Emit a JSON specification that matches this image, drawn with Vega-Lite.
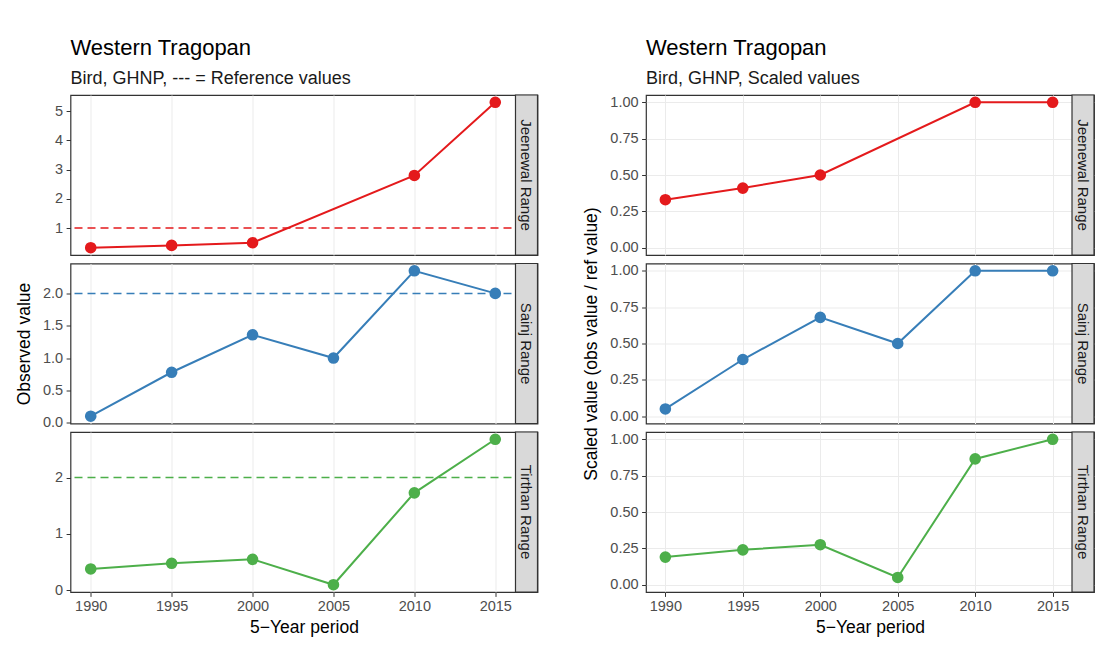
{
  "$schema": "https://vega.github.io/schema/vega-lite/v6.json",
  "background": "white",
  "padding": {"left": 14.5, "top": 36, "right": 6, "bottom": 20},
  "config": {
    "font": "Liberation Sans",
    "view": {"stroke": "#333333", "strokeWidth": 1.2},
    "axis": {
      "domain": false,
      "gridColor": "#ebebeb",
      "gridWidth": 1,
      "tickColor": "#333333",
      "tickSize": 4.4,
      "tickWidth": 1,
      "labelColor": "#4d4d4d",
      "labelFontSize": 14.5,
      "labelPadding": 3.5,
      "labelOverlap": false,
      "labelFlush": false,
      "titleFontSize": 17.5,
      "titleFontWeight": "normal",
      "titleColor": "#000000"
    },
    "axisY": {"titlePadding": 9},
    "axisX": {"titlePadding": 5},
    "title": {"anchor": "start", "frame": "group", "fontSize": 22, "fontWeight": "normal", "color": "#000000", "subtitleFontSize": 18, "subtitleColor": "#1a1a1a", "subtitlePadding": 10, "offset": 5}
  },
  "datasets": {
    "obs": [
      {"range": "Jeenewal Range", "year": 1990, "obs": 0.33, "scaled": 0.33},
      {"range": "Jeenewal Range", "year": 1995, "obs": 0.41, "scaled": 0.41},
      {"range": "Jeenewal Range", "year": 2000, "obs": 0.5, "scaled": 0.5},
      {"range": "Jeenewal Range", "year": 2010, "obs": 2.8, "scaled": 1},
      {"range": "Jeenewal Range", "year": 2015, "obs": 5.3, "scaled": 1},
      {"range": "Sainj Range", "year": 1990, "obs": 0.1, "scaled": 0.05},
      {"range": "Sainj Range", "year": 1995, "obs": 0.78, "scaled": 0.39},
      {"range": "Sainj Range", "year": 2000, "obs": 1.36, "scaled": 0.68},
      {"range": "Sainj Range", "year": 2005, "obs": 1.0, "scaled": 0.5},
      {"range": "Sainj Range", "year": 2010, "obs": 2.35, "scaled": 1},
      {"range": "Sainj Range", "year": 2015, "obs": 2.0, "scaled": 1},
      {"range": "Tirthan Range", "year": 1990, "obs": 0.38, "scaled": 0.19},
      {"range": "Tirthan Range", "year": 1995, "obs": 0.48, "scaled": 0.24},
      {"range": "Tirthan Range", "year": 2000, "obs": 0.55, "scaled": 0.275},
      {"range": "Tirthan Range", "year": 2005, "obs": 0.1, "scaled": 0.05},
      {"range": "Tirthan Range", "year": 2010, "obs": 1.73, "scaled": 0.865},
      {"range": "Tirthan Range", "year": 2015, "obs": 2.68, "scaled": 1}
    ],
    "refs": [
      {"range": "Jeenewal Range", "ref": 1},
      {"range": "Sainj Range", "ref": 2},
      {"range": "Tirthan Range", "ref": 2}
    ]
  },
  "hconcat": [
    {
      "title": {"text": "Western Tragopan", "subtitle": "Bird, GHNP, --- = Reference values"},
      "spacing": 8.5,
      "bounds": "flush",
      "vconcat": [
        {
          "width": 467, "height": 160,
          "resolve": {"axis": {"x": "independent", "y": "independent"}},
          "layer": [
            {"data": {"name": "refs"}, "transform": [{"filter": "datum.range == 'Jeenewal Range'"}], "mark": {"type": "rule", "color": "#E41A1C", "strokeDash": [8, 5], "strokeWidth": 1.5}, "encoding": {"y": {"field": "ref", "type": "quantitative", "axis": null}}},
            {"data": {"name": "obs"}, "transform": [{"filter": "datum.range == 'Jeenewal Range'"}], "mark": {"type": "line", "color": "#E41A1C", "strokeWidth": 2},
              "encoding": {
                "x": {"field": "year", "type": "quantitative", "scale": {"domain": [1988.75, 2017.61], "nice": false, "zero": false}, "axis": {"title": null, "values": [1990, 1995, 2000, 2005, 2010, 2015], "labels": false, "ticks": false}},
                "y": {"field": "obs", "type": "quantitative", "scale": {"domain": [0.0815, 5.5485], "nice": false, "zero": false}, "axis": {"title": null, "values": [1, 2, 3, 4, 5], "format": "d"}}
              }},
            {"data": {"name": "obs"}, "transform": [{"filter": "datum.range == 'Jeenewal Range'"}], "mark": {"type": "circle", "color": "#E41A1C", "size": 135, "opacity": 1},
              "encoding": {
                "x": {"field": "year", "type": "quantitative", "axis": {"orient": "top", "title": null, "values": [1992.5, 1997.5, 2002.5, 2007.5, 2012.5], "labels": false, "ticks": false, "gridWidth": 0.5}},
                "y": {"field": "obs", "type": "quantitative", "axis": {"orient": "right", "title": null, "values": [0.5, 1.5, 2.5, 3.5, 4.5, 5.5], "labels": false, "ticks": false, "gridWidth": 0.5}}
              }},
            {"data": {"name": "refs"}, "transform": [{"filter": "datum.range == 'Jeenewal Range'"}], "mark": {"type": "rect", "fill": "#d9d9d9", "stroke": "#333333", "strokeWidth": 1.2}, "encoding": {"x": {"datum": 2016.25, "axis": null}, "x2": {"datum": 2017.61}}},
            {"data": {"name": "refs"}, "transform": [{"filter": "datum.range == 'Jeenewal Range'"}], "mark": {"type": "text", "angle": 90, "fontSize": 15, "color": "#1a1a1a"}, "encoding": {"x": {"datum": 2016.93, "axis": null}, "text": {"field": "range"}}}
          ]
        },
        {
          "width": 467, "height": 160,
          "resolve": {"axis": {"x": "independent", "y": "independent"}},
          "layer": [
            {"data": {"name": "refs"}, "transform": [{"filter": "datum.range == 'Sainj Range'"}], "mark": {"type": "rule", "color": "#377EB8", "strokeDash": [8, 5], "strokeWidth": 1.5}, "encoding": {"y": {"field": "ref", "type": "quantitative", "axis": null}}},
            {"data": {"name": "obs"}, "transform": [{"filter": "datum.range == 'Sainj Range'"}], "mark": {"type": "line", "color": "#377EB8", "strokeWidth": 2},
              "encoding": {
                "x": {"field": "year", "type": "quantitative", "scale": {"domain": [1988.75, 2017.61], "nice": false, "zero": false}, "axis": {"title": null, "values": [1990, 1995, 2000, 2005, 2010, 2015], "labels": false, "ticks": false}},
                "y": {"field": "obs", "type": "quantitative", "scale": {"domain": [-0.0125, 2.4625], "nice": false, "zero": false}, "axis": {"title": "Observed value", "values": [0, 0.5, 1, 1.5, 2], "format": ".1f"}}
              }},
            {"data": {"name": "obs"}, "transform": [{"filter": "datum.range == 'Sainj Range'"}], "mark": {"type": "circle", "color": "#377EB8", "size": 135, "opacity": 1},
              "encoding": {
                "x": {"field": "year", "type": "quantitative", "axis": {"orient": "top", "title": null, "values": [1992.5, 1997.5, 2002.5, 2007.5, 2012.5], "labels": false, "ticks": false, "gridWidth": 0.5}},
                "y": {"field": "obs", "type": "quantitative", "axis": {"orient": "right", "title": null, "values": [0.25, 0.75, 1.25, 1.75, 2.25], "labels": false, "ticks": false, "gridWidth": 0.5}}
              }},
            {"data": {"name": "refs"}, "transform": [{"filter": "datum.range == 'Sainj Range'"}], "mark": {"type": "rect", "fill": "#d9d9d9", "stroke": "#333333", "strokeWidth": 1.2}, "encoding": {"x": {"datum": 2016.25, "axis": null}, "x2": {"datum": 2017.61}}},
            {"data": {"name": "refs"}, "transform": [{"filter": "datum.range == 'Sainj Range'"}], "mark": {"type": "text", "angle": 90, "fontSize": 15, "color": "#1a1a1a"}, "encoding": {"x": {"datum": 2016.93, "axis": null}, "text": {"field": "range"}}}
          ]
        },
        {
          "width": 467, "height": 160,
          "resolve": {"axis": {"x": "independent", "y": "independent"}},
          "layer": [
            {"data": {"name": "refs"}, "transform": [{"filter": "datum.range == 'Tirthan Range'"}], "mark": {"type": "rule", "color": "#4DAF4A", "strokeDash": [8, 5], "strokeWidth": 1.5}, "encoding": {"y": {"field": "ref", "type": "quantitative", "axis": null}}},
            {"data": {"name": "obs"}, "transform": [{"filter": "datum.range == 'Tirthan Range'"}], "mark": {"type": "line", "color": "#4DAF4A", "strokeWidth": 2},
              "encoding": {
                "x": {"field": "year", "type": "quantitative", "scale": {"domain": [1988.75, 2017.61], "nice": false, "zero": false}, "axis": {"title": "5−Year period", "values": [1990, 1995, 2000, 2005, 2010, 2015], "format": "d"}},
                "y": {"field": "obs", "type": "quantitative", "scale": {"domain": [-0.029, 2.809], "nice": false, "zero": false}, "axis": {"title": null, "values": [0, 1, 2], "format": "d"}}
              }},
            {"data": {"name": "obs"}, "transform": [{"filter": "datum.range == 'Tirthan Range'"}], "mark": {"type": "circle", "color": "#4DAF4A", "size": 135, "opacity": 1},
              "encoding": {
                "x": {"field": "year", "type": "quantitative", "axis": {"orient": "top", "title": null, "values": [1992.5, 1997.5, 2002.5, 2007.5, 2012.5], "labels": false, "ticks": false, "gridWidth": 0.5}},
                "y": {"field": "obs", "type": "quantitative", "axis": {"orient": "right", "title": null, "values": [0.5, 1.5, 2.5], "labels": false, "ticks": false, "gridWidth": 0.5}}
              }},
            {"data": {"name": "refs"}, "transform": [{"filter": "datum.range == 'Tirthan Range'"}], "mark": {"type": "rect", "fill": "#d9d9d9", "stroke": "#333333", "strokeWidth": 1.2}, "encoding": {"x": {"datum": 2016.25, "axis": null}, "x2": {"datum": 2017.61}}},
            {"data": {"name": "refs"}, "transform": [{"filter": "datum.range == 'Tirthan Range'"}], "mark": {"type": "text", "angle": 90, "fontSize": 15, "color": "#1a1a1a"}, "encoding": {"x": {"datum": 2016.93, "axis": null}, "text": {"field": "range"}}}
          ]
        }
      ]
    },
    {
      "title": {"text": "Western Tragopan", "subtitle": "Bird, GHNP, Scaled values"},
      "spacing": 8.5,
      "bounds": "flush",
      "vconcat": [
        {
          "width": 448, "height": 160,
          "resolve": {"axis": {"x": "independent", "y": "independent"}},
          "layer": [
            {"data": {"name": "obs"}, "transform": [{"filter": "datum.range == 'Jeenewal Range'"}], "mark": {"type": "line", "color": "#E41A1C", "strokeWidth": 2},
              "encoding": {
                "x": {"field": "year", "type": "quantitative", "scale": {"domain": [1988.75, 2017.67], "nice": false, "zero": false}, "axis": {"title": null, "values": [1990, 1995, 2000, 2005, 2010, 2015], "labels": false, "ticks": false}},
                "y": {"field": "scaled", "type": "quantitative", "scale": {"domain": [-0.05, 1.05], "nice": false, "zero": false}, "axis": {"title": null, "values": [0, 0.25, 0.5, 0.75, 1], "format": ".2f"}}
              }},
            {"data": {"name": "obs"}, "transform": [{"filter": "datum.range == 'Jeenewal Range'"}], "mark": {"type": "circle", "color": "#E41A1C", "size": 135, "opacity": 1},
              "encoding": {
                "x": {"field": "year", "type": "quantitative", "axis": {"orient": "top", "title": null, "values": [1992.5, 1997.5, 2002.5, 2007.5, 2012.5], "labels": false, "ticks": false, "gridWidth": 0.5}},
                "y": {"field": "scaled", "type": "quantitative", "axis": {"orient": "right", "title": null, "values": [0.125, 0.375, 0.625, 0.875], "labels": false, "ticks": false, "gridWidth": 0.5}}
              }},
            {"data": {"name": "refs"}, "transform": [{"filter": "datum.range == 'Jeenewal Range'"}], "mark": {"type": "rect", "fill": "#d9d9d9", "stroke": "#333333", "strokeWidth": 1.2}, "encoding": {"x": {"datum": 2016.25, "axis": null}, "x2": {"datum": 2017.67}}},
            {"data": {"name": "refs"}, "transform": [{"filter": "datum.range == 'Jeenewal Range'"}], "mark": {"type": "text", "angle": 90, "fontSize": 15, "color": "#1a1a1a"}, "encoding": {"x": {"datum": 2016.96, "axis": null}, "text": {"field": "range"}}}
          ]
        },
        {
          "width": 448, "height": 160,
          "resolve": {"axis": {"x": "independent", "y": "independent"}},
          "layer": [
            {"data": {"name": "obs"}, "transform": [{"filter": "datum.range == 'Sainj Range'"}], "mark": {"type": "line", "color": "#377EB8", "strokeWidth": 2},
              "encoding": {
                "x": {"field": "year", "type": "quantitative", "scale": {"domain": [1988.75, 2017.67], "nice": false, "zero": false}, "axis": {"title": null, "values": [1990, 1995, 2000, 2005, 2010, 2015], "labels": false, "ticks": false}},
                "y": {"field": "scaled", "type": "quantitative", "scale": {"domain": [-0.05, 1.05], "nice": false, "zero": false}, "axis": {"title": "Scaled value (obs value / ref value)", "values": [0, 0.25, 0.5, 0.75, 1], "format": ".2f"}}
              }},
            {"data": {"name": "obs"}, "transform": [{"filter": "datum.range == 'Sainj Range'"}], "mark": {"type": "circle", "color": "#377EB8", "size": 135, "opacity": 1},
              "encoding": {
                "x": {"field": "year", "type": "quantitative", "axis": {"orient": "top", "title": null, "values": [1992.5, 1997.5, 2002.5, 2007.5, 2012.5], "labels": false, "ticks": false, "gridWidth": 0.5}},
                "y": {"field": "scaled", "type": "quantitative", "axis": {"orient": "right", "title": null, "values": [0.125, 0.375, 0.625, 0.875], "labels": false, "ticks": false, "gridWidth": 0.5}}
              }},
            {"data": {"name": "refs"}, "transform": [{"filter": "datum.range == 'Sainj Range'"}], "mark": {"type": "rect", "fill": "#d9d9d9", "stroke": "#333333", "strokeWidth": 1.2}, "encoding": {"x": {"datum": 2016.25, "axis": null}, "x2": {"datum": 2017.67}}},
            {"data": {"name": "refs"}, "transform": [{"filter": "datum.range == 'Sainj Range'"}], "mark": {"type": "text", "angle": 90, "fontSize": 15, "color": "#1a1a1a"}, "encoding": {"x": {"datum": 2016.96, "axis": null}, "text": {"field": "range"}}}
          ]
        },
        {
          "width": 448, "height": 160,
          "resolve": {"axis": {"x": "independent", "y": "independent"}},
          "layer": [
            {"data": {"name": "obs"}, "transform": [{"filter": "datum.range == 'Tirthan Range'"}], "mark": {"type": "line", "color": "#4DAF4A", "strokeWidth": 2},
              "encoding": {
                "x": {"field": "year", "type": "quantitative", "scale": {"domain": [1988.75, 2017.67], "nice": false, "zero": false}, "axis": {"title": "5−Year period", "values": [1990, 1995, 2000, 2005, 2010, 2015], "format": "d"}},
                "y": {"field": "scaled", "type": "quantitative", "scale": {"domain": [-0.05, 1.05], "nice": false, "zero": false}, "axis": {"title": null, "values": [0, 0.25, 0.5, 0.75, 1], "format": ".2f"}}
              }},
            {"data": {"name": "obs"}, "transform": [{"filter": "datum.range == 'Tirthan Range'"}], "mark": {"type": "circle", "color": "#4DAF4A", "size": 135, "opacity": 1},
              "encoding": {
                "x": {"field": "year", "type": "quantitative", "axis": {"orient": "top", "title": null, "values": [1992.5, 1997.5, 2002.5, 2007.5, 2012.5], "labels": false, "ticks": false, "gridWidth": 0.5}},
                "y": {"field": "scaled", "type": "quantitative", "axis": {"orient": "right", "title": null, "values": [0.125, 0.375, 0.625, 0.875], "labels": false, "ticks": false, "gridWidth": 0.5}}
              }},
            {"data": {"name": "refs"}, "transform": [{"filter": "datum.range == 'Tirthan Range'"}], "mark": {"type": "rect", "fill": "#d9d9d9", "stroke": "#333333", "strokeWidth": 1.2}, "encoding": {"x": {"datum": 2016.25, "axis": null}, "x2": {"datum": 2017.67}}},
            {"data": {"name": "refs"}, "transform": [{"filter": "datum.range == 'Tirthan Range'"}], "mark": {"type": "text", "angle": 90, "fontSize": 15, "color": "#1a1a1a"}, "encoding": {"x": {"datum": 2016.96, "axis": null}, "text": {"field": "range"}}}
          ]
        }
      ]
    }
  ],
  "spacing": 42.5
}
